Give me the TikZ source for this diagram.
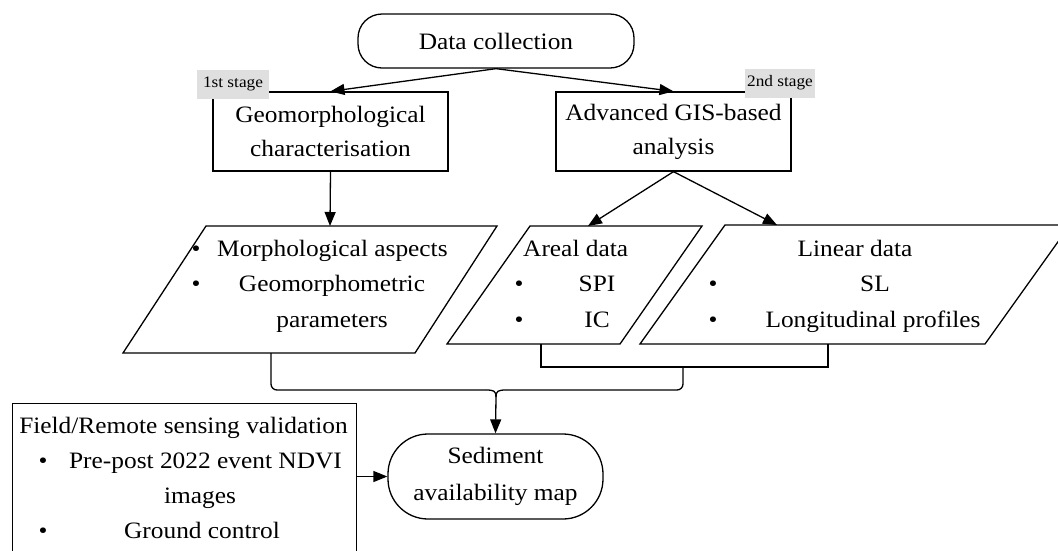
\documentclass[tikz,border=0pt]{standalone}
\usepackage{fontspec}
\setmainfont{Liberation Serif}[FakeStretch=1.08]
\usetikzlibrary{arrows.meta}
\begin{document}
\begin{tikzpicture}[x=1pt,y=-1pt,
  line/.style={draw, line width=1.3pt},
  arr/.style={line width=1.3pt, -{Triangle[length=14pt,width=11pt]}},
  txt/.style={font=\fontsize{23.5}{34}\selectfont, inner sep=0pt},
  lbl/.style={font=\fontsize{23.5}{34}\selectfont, inner sep=0pt, anchor=base},
  tag/.style={fill=gray!25, font=\fontsize{16}{18}\selectfont, inner sep=0pt, minimum height=29pt},
]
\clip (0,0) rectangle (1058,550);

% top terminal
\node[line, rounded corners=24pt, minimum width=276pt, minimum height=54pt, txt] (dc) at (496,41) {Data collection};

% stage boxes
\node[line, minimum width=235pt, minimum height=79pt, txt, align=center] (geo) at (330.5,131.5) {Geomorphological\\characterisation};
\node[line, minimum width=235pt, minimum height=79pt, txt, align=center] (adv) at (673.5,131.5) {Advanced GIS-based\\analysis};
\node[tag, minimum width=72pt] (t1) at (233,84) {1st stage};
\node[tag, minimum width=70pt] (t2) at (780,83) {2nd stage};

% parallelograms
\draw[line] (206,226) -- (497,226) -- (415,353) -- (123,353) -- cycle;
\draw[line] (530,226) -- (702,226) -- (620,344) -- (447,344) -- cycle;
\draw[line] (725,225) -- (1070,225) -- (985,344) -- (640,344) -- cycle;
\coordinate (lpT) at (330,226);
\coordinate (lpB) at (271,353);
\coordinate (arT) at (588,226);
\coordinate (arB) at (541,344);
\coordinate (liT) at (777,225);
\coordinate (liB) at (828,344);

% parallelogram texts
\node[lbl] (b1) at (196,256) {\textbullet};
\node[lbl, anchor=base west] (m1) at (217,256) {Morphological aspects};
\node[lbl] (b2) at (196,291) {\textbullet};
\node[lbl] (m2) at (332,291) {Geomorphometric};
\node[lbl] (m3) at (332,327) {parameters};

\node[lbl, anchor=base west] (a0) at (523,256) {Areal data};
\node[lbl] (b3) at (519,291) {\textbullet};
\node[lbl] (a1) at (597,291) {SPI};
\node[lbl] (b4) at (519,327) {\textbullet};
\node[lbl] (a2) at (597,327) {IC};

\node[lbl] (l0) at (855,256) {Linear data};
\node[lbl] (b5) at (713,291) {\textbullet};
\node[lbl] (l1) at (875,291) {SL};
\node[lbl] (b6) at (713,327) {\textbullet};
\node[lbl] (l2) at (873,327) {Longitudinal profiles};

% sediment map
\node[line, rounded corners=40pt, minimum width=215pt, minimum height=85pt, inner sep=0pt, align=center, font=\fontsize{23.5}{37}\selectfont] (sed) at (495.5,476.5) {Sediment\\availability map};

% field box
\node[line, minimum width=344pt, minimum height=170pt, anchor=north west, inner sep=0pt] (fld) at (12,403) {};
\node[lbl] (f0) at (183.5,433) {Field/Remote sensing validation};
\node[lbl] (b7) at (43,468) {\textbullet};
\node[lbl] (f1) at (205.5,468) {Pre-post 2022 event NDVI};
\node[lbl] (f2) at (200,503) {images};
\node[lbl] (b8) at (43,538) {\textbullet};
\node[lbl] (f3) at (202,538) {Ground control};

% connectors
\draw[arr] (dc.south) -- (geo.north);
\draw[arr] (dc.south) -- (adv.north);
\draw[arr] (geo.south) -- (lpT);
\draw[arr] (adv.south) -- (arT);
\draw[arr] (adv.south) -- (liT);

\coordinate (j1) at (683,367);
\coordinate (j2) at (496,397);
\draw[line] (arB) |- (j1) -| (liB);
\draw[line, rounded corners=6pt] (lpB) -- (271,390) -- (486,390);
\draw[line, rounded corners=6pt] (506,390) -- (683,390) -- (j1);
\draw[line] (486,390) .. controls (494,390) and (496,391) .. (j2);
\draw[line] (506,390) .. controls (498,390) and (496,391) .. (j2);
\draw[arr] (j2) -- (sed.north);
\draw[arr] (fld.east |- sed.west) -- (sed.west);
\end{tikzpicture}
\end{document}
